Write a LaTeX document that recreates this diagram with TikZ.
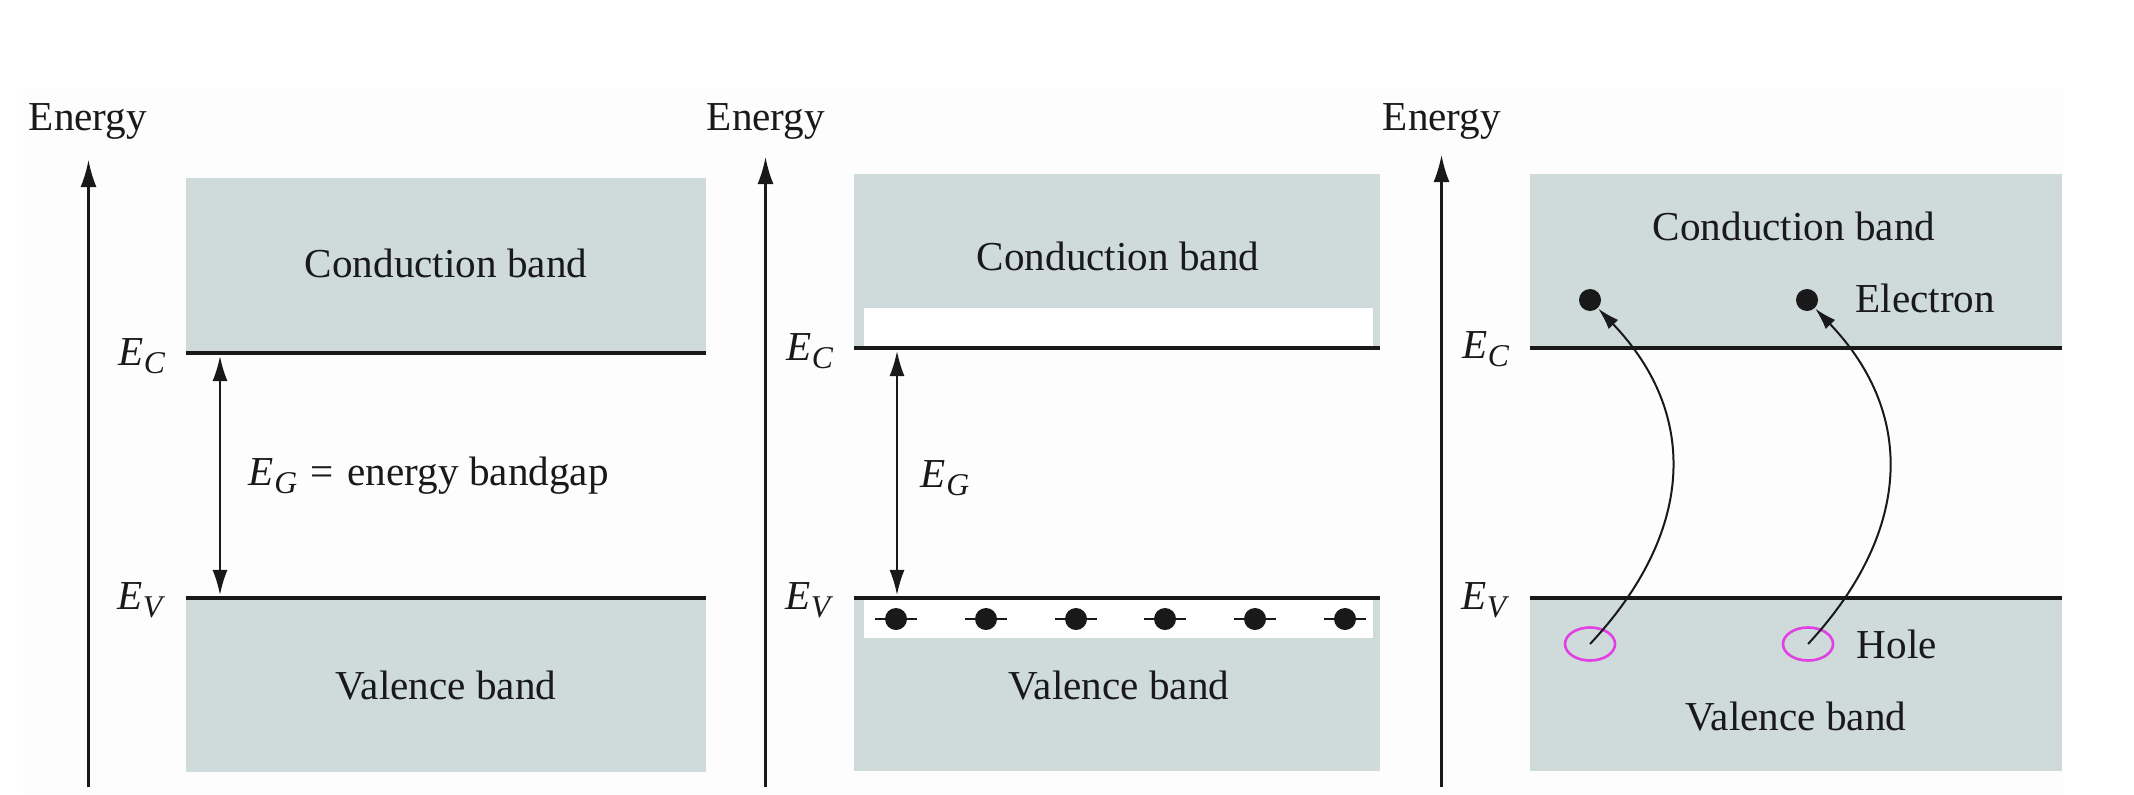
\documentclass[tikz,border=0pt]{standalone}
\usepackage{fontspec}
\setmainfont{Liberation Serif}
\usetikzlibrary{arrows.meta,shapes.geometric}
\definecolor{band}{RGB}{207,218,218}
\definecolor{holec}{RGB}{226,64,226}
\definecolor{paper}{RGB}{253,253,253}
\definecolor{ink}{RGB}{25,25,25}
\newcommand{\Esub}[1]{\textit{E}\kern0.01em\raisebox{-0.45ex}{\fontsize{9}{9}\selectfont\textit{#1}}}
\begin{document}
\begin{tikzpicture}[x=0.01cm,y=-0.01cm,
  lbl/.style={font=\fontsize{11.7}{13}\selectfont, text=ink, inner sep=0pt},
  level/.style={line width=0.042cm, ink},
  axis/.style={line width=0.022cm, ink, -{Latex[length=0.27cm,width=0.16cm]}},
  gaparrow/.style={line width=0.02cm, ink, {Latex[length=0.25cm,width=0.15cm]}-{Latex[length=0.25cm,width=0.15cm]}},
  jump/.style={line width=0.02cm, ink, -{Latex[length=0.22cm,width=0.13cm]}},
  elec/.style={circle, fill=ink, minimum size=0.22cm, inner sep=0pt},
  elecbar/.style={line width=0.02cm, ink},
  hole/.style={ellipse, draw=holec, line width=0.026cm, minimum width=0.5cm, minimum height=0.33cm, inner sep=0pt},
]
\useasboundingbox (0,0) rectangle (2134,794);
\fill[white] (0,0) rectangle (2134,794);
\fill[paper] (23,88) rectangle (2063,794);

% ---------- Panel 1 ----------
\fill[band] (186,178) rectangle (706,353);
\fill[band] (186,598) rectangle (706,772);
\draw[level] (186,353) -- (706,353);
\draw[level] (186,598) -- (706,598);
\coordinate (a1b) at (88.5,787);
\coordinate (a1t) at (88.5,160);
\draw[axis] (a1b) -- (a1t);
\node[lbl, anchor=base] (en1) at (88,130) {Energy};
\node[lbl, anchor=base east] (ec1) at (166,365) {\Esub{C}};
\node[lbl, anchor=base east] (ev1) at (166,609) {\Esub{V}};
\coordinate (g1t) at (220,356);
\coordinate (g1b) at (220,595);
\draw[gaparrow] (g1b) -- (g1t);
\node[lbl, anchor=base west] (eg1) at (248,485) {\Esub{G}\,\,=\,\,energy bandgap};
\node[lbl, anchor=base] (cb1) at (446,277) {Conduction band};
\node[lbl, anchor=base] (vb1) at (446,699) {Valence band};

% ---------- Panel 2 ----------
\fill[band] (854,174) rectangle (1380,348);
\fill[band] (854,598) rectangle (1380,771);
\fill[white] (864,308) rectangle (1373,348);
\fill[white] (864,598) rectangle (1373,638);
\draw[level] (854,348) -- (1380,348);
\draw[level] (854,598) -- (1380,598);
\coordinate (a2b) at (765.5,787);
\coordinate (a2t) at (765.5,157);
\draw[axis] (a2b) -- (a2t);
\node[lbl, anchor=base] (en2) at (766,130) {Energy};
\node[lbl, anchor=base east] (ec2) at (834,360) {\Esub{C}};
\node[lbl, anchor=base east] (ev2) at (834,609) {\Esub{V}};
\coordinate (g2t) at (897,351);
\coordinate (g2b) at (897,595);
\draw[gaparrow] (g2b) -- (g2t);
\node[lbl, anchor=base west] (eg2) at (920,487) {\Esub{G}};
\node[lbl, anchor=base] (cb2) at (1118,270) {Conduction band};
\node[lbl, anchor=base] (vb2) at (1119,699) {Valence band};
\foreach \i/\x in {1/896,2/986,3/1076,4/1165,5/1255,6/1345}{
  \draw[elecbar] (\x-21,619) -- (\x+21,619);
  \node[elec] (d\i) at (\x,619) {};
}

% ---------- Panel 3 ----------
\fill[band] (1530,174) rectangle (2062,348);
\fill[band] (1530,598) rectangle (2062,771);
\draw[level] (1530,348) -- (2062,348);
\draw[level] (1530,598) -- (2062,598);
\coordinate (a3b) at (1441.5,787);
\coordinate (a3t) at (1441.5,155);
\draw[axis] (a3b) -- (a3t);
\node[lbl, anchor=base] (en3) at (1442,130) {Energy};
\node[lbl, anchor=base east] (ec3) at (1510,358) {\Esub{C}};
\node[lbl, anchor=base east] (ev3) at (1510,609) {\Esub{V}};
\node[lbl, anchor=base] (cb3) at (1794,240) {Conduction band};
\node[lbl, anchor=base] (vb3) at (1796,730) {Valence band};
\node[elec] (e1) at (1590,300) {};
\node[elec] (e2) at (1807,300) {};
\node[hole] (h1) at (1590,644) {};
\node[hole] (h2) at (1808,644) {};
\node[lbl, anchor=base west] (elab) at (1855,312) {Electron};
\node[lbl, anchor=base west] (hlab) at (1856,658) {Hole};
\draw[jump] (h1.center) .. controls (1693,534) and (1701,416) .. (e1);
\draw[jump] (h2.center) .. controls (1910,534) and (1918,416) .. (e2);
\end{tikzpicture}
\end{document}
